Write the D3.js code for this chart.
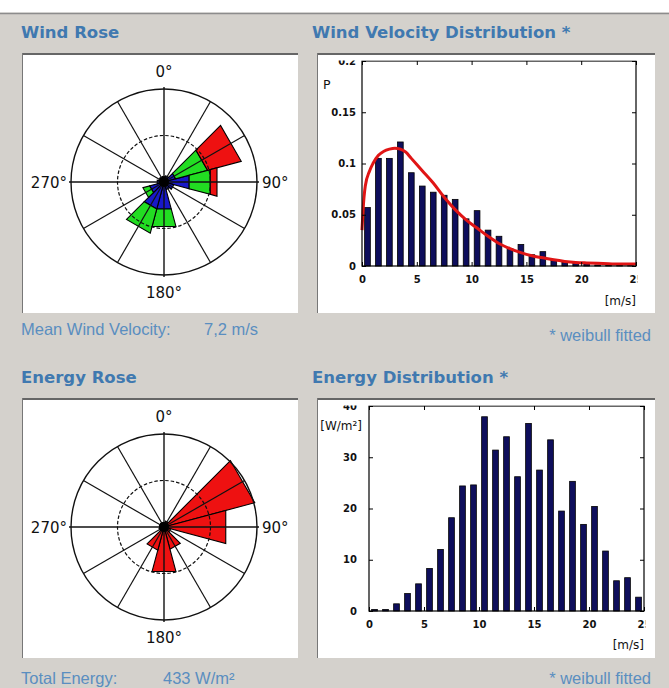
<!DOCTYPE html>
<html><head><meta charset="utf-8">
<script src="https://cdn.jsdelivr.net/npm/d3@7"></script>
<style>html,body{margin:0;padding:0;background:#d4d1cc;}svg{display:block}</style>
</head><body><svg id="c" width="669" height="688"></svg>
<script>
// ---------- data ----------
const directions = [0, 30, 60, 90, 120, 150, 180, 210, 240, 270, 300, 330];
const windLow  = [1.2, 1.4, 2.6, 5.6, 2.2, 1.7, 6.0, 6.0, 3.2, 1.5, 1.2, 1.2];
const windMid  = [0, 0, 7.1, 4.7, 0, 0, 3.9, 5.4, 1.5, 0, 0, 0];
const windHigh = [0, 0, 7.5, 1.5, 0, 0, 0, 0, 0, 0, 0, 0];
const energyRose = [2.0, 2.6, 40.4, 27.5, 3.0, 9.9, 19.8, 10.3, 2.2, 2.0, 2.0, 2.0];
const roseLabels = ["0°", "90°", "180°", "270°"];

const speedBins = [0.5, 1.5, 2.5, 3.5, 4.5, 5.5, 6.5, 7.5, 8.5, 9.5, 10.5, 11.5, 12.5,
                   13.5, 14.5, 15.5, 16.5, 17.5, 18.5, 19.5, 20.5, 21.5, 22.5, 23.5, 24.5];
const windProb = [0.057, 0.105, 0.105, 0.121, 0.091, 0.078, 0.072, 0.069, 0.065, 0.046,
                  0.054, 0.035, 0.029, 0.017, 0.021, 0.011, 0.014, 0.006, 0.004, 0.003,
                  0.002, 0.001, 0.0008, 0.0005, 0.0003];
const weibullX = [0, 0.1, 0.3, 0.7, 1.0, 1.5, 2.0, 2.5, 3.0, 3.5, 4.0, 4.5, 5.5, 6.5, 7.5,
                  8.5, 9.5, 10.5, 11.5, 12.5, 13.5, 14.5, 15.5, 16.5, 17.5, 18.5, 19.5,
                  20.5, 22, 23.5, 25];
const weibullY = [0.035, 0.055, 0.078, 0.093, 0.100, 0.108, 0.112, 0.114, 0.115, 0.114,
                  0.111, 0.105, 0.093, 0.081, 0.067, 0.055, 0.045, 0.037, 0.029, 0.022,
                  0.017, 0.013, 0.010, 0.008, 0.006, 0.0045, 0.0035, 0.003, 0.0025,
                  0.002, 0.002];
const energyDist = [0.3, 0.3, 1.4, 3.4, 5.3, 8.3, 12.0, 18.2, 24.4, 24.6, 37.9, 31.4, 34.0,
                    26.2, 36.6, 27.5, 33.4, 19.5, 25.3, 16.9, 20.4, 11.7, 5.9, 6.5, 2.7];
const windYTicks = [0, 0.05, 0.1, 0.15, 0.2];
const energyYTicks = [0, 10, 20, 30, 40];
const speedTicks = [0, 5, 10, 15, 20, 25];

// ---------- setup ----------
const W = 669, H = 688;
const svg = d3.select("#c");
const TITLE = "#4079b0", FOOT = "#5a8ec0";
svg.append("rect").attr("width", W).attr("height", H).attr("fill", "#d4d1cc");
svg.append("rect").attr("width", W).attr("height", 12.5).attr("fill", "#ffffff");
svg.append("line").attr("x1", 0).attr("x2", W).attr("y1", 13.5).attr("y2", 13.5)
  .attr("stroke", "#8c8c8c").attr("stroke-width", 1.5);

function panel(x0, y0, x1, y1) {
  svg.append("rect").attr("x", x0).attr("y", y0).attr("width", x1 - x0).attr("height", y1 - y0).attr("fill", "#fff");
  svg.append("line").attr("x1", x0).attr("x2", x1).attr("y1", y0 + 1).attr("y2", y0 + 1)
    .attr("stroke", "#666").attr("stroke-width", 2);
  svg.append("line").attr("x1", x0 + 0.5).attr("x2", x0 + 0.5).attr("y1", y0).attr("y2", y1)
    .attr("stroke", "#777").attr("stroke-width", 1);
}
function title(x, y, t) {
  svg.append("text").attr("x", x).attr("y", y).text(t)
    .attr("font-family", "DejaVu Sans").attr("font-weight", "bold").attr("font-size", 16.5).attr("fill", TITLE);
}
function foot(x, y, t, anchor) {
  svg.append("text").attr("x", x).attr("y", y).text(t).attr("text-anchor", anchor || "start")
    .attr("font-family", "Liberation Sans, Arial").attr("font-size", 16.5).attr("fill", FOOT);
}

panel(22, 53, 298, 313);
panel(317, 53, 655, 313);
panel(22, 398, 298, 658);
panel(317, 398, 655, 658);

title(21, 38, "Wind Rose");
title(312, 38, "Wind Velocity Distribution *");
title(21, 383, "Energy Rose");
title(312, 383, "Energy Distribution *");

foot(21, 335, "Mean Wind Velocity:");
foot(204, 335, "7,2 m/s");
foot(651, 341, "* weibull fitted", "end");
foot(21, 684, "Total Energy:");
foot(163, 684, "433 W/m²");
foot(651, 684, "* weibull fitted", "end");

// ---------- roses ----------
const rad = d => d * Math.PI / 180;
function drawRose(cx, cy, maxVal, layers, colors) {
  const R = 93;
  const r = d3.scaleLinear().domain([0, maxVal]).range([0, R]);
  const g = svg.append("g").attr("transform", `translate(${cx},${cy})`);
  const keys = layers.map((_, i) => "k" + i);
  const rows = directions.map((dir, j) => {
    const o = { dir };
    layers.forEach((L, i) => o["k" + i] = L[j]);
    return o;
  });
  const stacked = d3.stack().keys(keys)(rows);
  const poly = d3.lineRadial().curve(d3.curveLinearClosed);
  stacked.forEach((layer, k) => {
    g.append("g").selectAll("path").data(layer.filter(d => d[1] > d[0])).join("path")
      .attr("d", d => {
        const a0 = rad(d.data.dir - 15), a1 = rad(d.data.dir + 15);
        const r0 = r(d[0]), r1 = r(d[1]);
        return poly([[a0, r0], [a0, r1], [a1, r1], [a1, r0]]);
      })
      .attr("fill", colors[k]).attr("stroke", "#000").attr("stroke-width", 1.1);
  });
  // grid on top
  const grid = g.append("g").attr("fill", "none").attr("stroke", "#111");
  grid.append("circle").attr("r", R).attr("stroke-width", 1.4);
  grid.append("circle").attr("r", R / 2).attr("stroke-width", 1.2).attr("stroke-dasharray", "3.5,2");
  const spokes = d3.range(0, 360, 30);
  grid.selectAll("line.sp").data(spokes).join("line")
    .attr("x1", 0).attr("y1", 0)
    .attr("x2", d => (d % 90 === 0 ? 95 : R) * Math.sin(rad(d)))
    .attr("y2", d => -(d % 90 === 0 ? 95 : R) * Math.cos(rad(d)))
    .attr("stroke-width", d => d % 90 === 0 ? 1.4 : 1.2);
  g.append("circle").attr("r", 5).attr("fill", "#000");
  const lab = g.append("g").attr("font-family", "DejaVu Sans").attr("font-size", 15).attr("fill", "#111");
  lab.append("text").attr("x", 0).attr("y", -105).attr("text-anchor", "middle").text(roseLabels[0]);
  lab.append("text").attr("x", 98).attr("y", 6).attr("text-anchor", "start").text(roseLabels[1]);
  lab.append("text").attr("x", 0).attr("y", 116).attr("text-anchor", "middle").text(roseLabels[2]);
  lab.append("text").attr("x", -97).attr("y", 6).attr("text-anchor", "end").text(roseLabels[3]);
}
drawRose(164, 182, 20, [windLow, windMid, windHigh], ["#1818c8", "#22dd22", "#ee1111"]);
drawRose(164, 527, 40, [energyRose], ["#ee1111"]);

// ---------- histograms ----------
function drawHist(o) {
  const x = d3.scaleLinear().domain([0, 25]).range([o.left, o.right]);
  const y = d3.scaleLinear().domain([o.yTicks[0], o.yTicks[o.yTicks.length - 1]]).range([o.bottom, o.top]);
  svg.append("clipPath").attr("id", o.id).append("rect")
    .attr("x", o.panelLeft).attr("y", o.top - 0.5)
    .attr("width", o.right + 1.5 - o.panelLeft).attr("height", o.panelBottom - o.top + 0.5);
  const g = svg.append("g").attr("clip-path", `url(#${o.id})`);
  const bw = 0.52;
  g.append("g").selectAll("rect").data(o.values).join("rect")
    .attr("x", (d, i) => x(speedBins[i] - bw / 2))
    .attr("width", x(bw) - x(0))
    .attr("y", d => y(d))
    .attr("height", d => y(0) - y(d))
    .attr("fill", "#0e0e5c").attr("stroke", "#000").attr("stroke-width", 0.8);
  if (o.curveX) {
    const line = d3.line().x((d, i) => x(o.curveX[i])).y(d => y(d)).curve(d3.curveMonotoneX);
    g.append("path").attr("d", line(o.curveY)).attr("fill", "none")
      .attr("stroke", "#e01515").attr("stroke-width", 3).attr("stroke-linejoin", "round");
  }
  g.append("rect").attr("x", o.left).attr("y", o.top).attr("width", o.right - o.left).attr("height", o.bottom - o.top)
    .attr("fill", "none").attr("stroke", "#000").attr("stroke-width", 1.2);
  const styleAxis = sel => {
    sel.select(".domain").remove();
    sel.selectAll("line").attr("stroke", "#000");
    sel.selectAll("text").attr("font-family", "DejaVu Sans").attr("font-weight", "bold")
      .attr("font-size", 10).attr("fill", "#111");
  };
  g.append("g").attr("transform", `translate(0,${o.bottom})`)
    .call(d3.axisBottom(x).tickValues(speedTicks).tickSize(-4).tickPadding(9.5).tickFormat(d => String(d)))
    .call(styleAxis);
  g.append("g").attr("transform", `translate(0,${o.top})`)
    .call(d3.axisTop(x).tickValues(speedTicks).tickSize(-4).tickFormat(""))
    .call(styleAxis);
  g.append("g").attr("transform", `translate(${o.left},0)`)
    .call(d3.axisLeft(y).tickValues(o.yTicks).tickSize(-4).tickPadding(o.yPad).tickFormat(d => String(d)))
    .call(styleAxis);
  g.append("g").attr("transform", `translate(${o.right},0)`)
    .call(d3.axisRight(y).tickValues(o.yTicks).tickSize(-4).tickFormat(""))
    .call(styleAxis);
  svg.append("text").attr("x", o.yLabelX).attr("y", o.yLabelY).attr("text-anchor", o.yLabelAnchor)
    .attr("font-family", "DejaVu Sans").attr("font-size", o.yLabelSize).attr("fill", "#111").text(o.yLabel);
  svg.append("text").attr("x", o.right).attr("y", o.xLabelY).attr("text-anchor", "end")
    .attr("font-family", "DejaVu Sans").attr("font-size", 12).attr("fill", "#111").text("[m/s]");
}

drawHist({
  id: "clipW", left: 362, right: 636, top: 61, bottom: 266, panelLeft: 317, panelBottom: 313,
  values: windProb, yTicks: windYTicks, yPad: 6, curveX: weibullX, curveY: weibullY,
  yLabel: "P", yLabelX: 323, yLabelY: 89, yLabelAnchor: "start", yLabelSize: 12.5, xLabelY: 305
});
drawHist({
  id: "clipE", left: 369, right: 644, top: 406, bottom: 611, panelLeft: 317, panelBottom: 658,
  values: energyDist, yTicks: energyYTicks, yPad: 12,
  yLabel: "[W/m²]", yLabelX: 362, yLabelY: 430, yLabelAnchor: "end", yLabelSize: 12, xLabelY: 649
});
</script></body></html>
